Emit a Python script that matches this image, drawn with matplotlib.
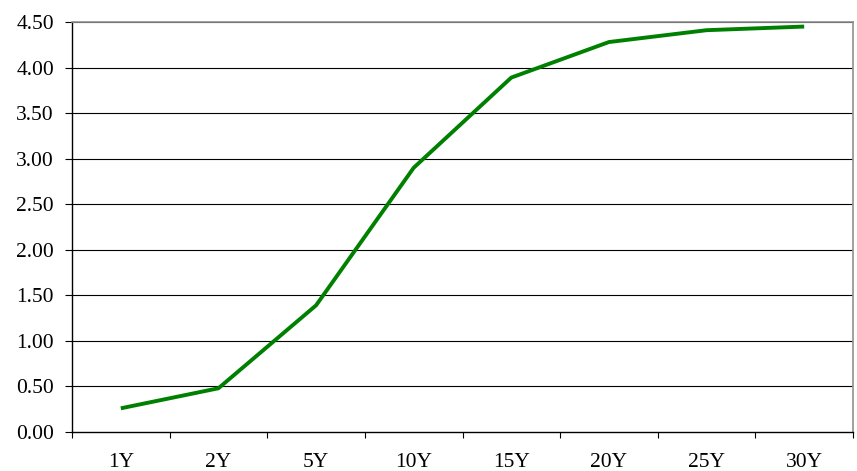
import matplotlib
matplotlib.use("Agg")
import matplotlib.pyplot as plt
import numpy as np

categories = ["1Y", "2Y", "5Y", "10Y", "15Y", "20Y", "25Y", "30Y"]
values = [0.26, 0.48, 1.39, 2.90, 3.89, 4.28, 4.41, 4.45]
yticks = [0.0, 0.5, 1.0, 1.5, 2.0, 2.5, 3.0, 3.5, 4.0, 4.5]

plt.rcParams['font.family'] = ['Liberation Serif', 'DejaVu Serif']

fig = plt.figure(figsize=(8.57, 4.71), dpi=100)
ax = fig.add_axes([72/857, 1-432/471, (853-72)/857, (432-22)/471])

x = np.arange(len(categories))
ax.plot(x, values, color="#008000", linewidth=2.8, solid_capstyle="butt", zorder=3)

ax.set_xlim(-0.5, len(categories)-0.5)
ax.set_ylim(0, 4.5)
ax.set_yticks(yticks)
ax.set_yticklabels([f"{v:.2f}" for v in yticks], fontsize=15.5)
for v in yticks[1:]:
    ax.axhline(v, color="black", linewidth=0.8, zorder=1)

ax.set_xticks(np.arange(-0.5, len(categories)), minor=False)
ax.set_xticklabels([])
ax.set_xticks(x, minor=True)
ax.set_xticklabels(categories, minor=True, fontsize=15.5)
ax.tick_params(axis='x', which='minor', length=0, pad=15)
ax.tick_params(axis='x', which='major', length=4.5, width=0.8, direction='out')
ax.tick_params(axis='y', length=5, width=0.8, direction='out', pad=8)

ax.spines['left'].set_color('black')
ax.spines['bottom'].set_color('black')
ax.spines['left'].set_linewidth(1.0)
ax.spines['bottom'].set_linewidth(1.0)
ax.spines['top'].set_color('#909090')
ax.spines['right'].set_color('#909090')
ax.spines['top'].set_linewidth(1.2)
ax.spines['right'].set_linewidth(1.2)

fig.savefig("out.png", dpi=100)
